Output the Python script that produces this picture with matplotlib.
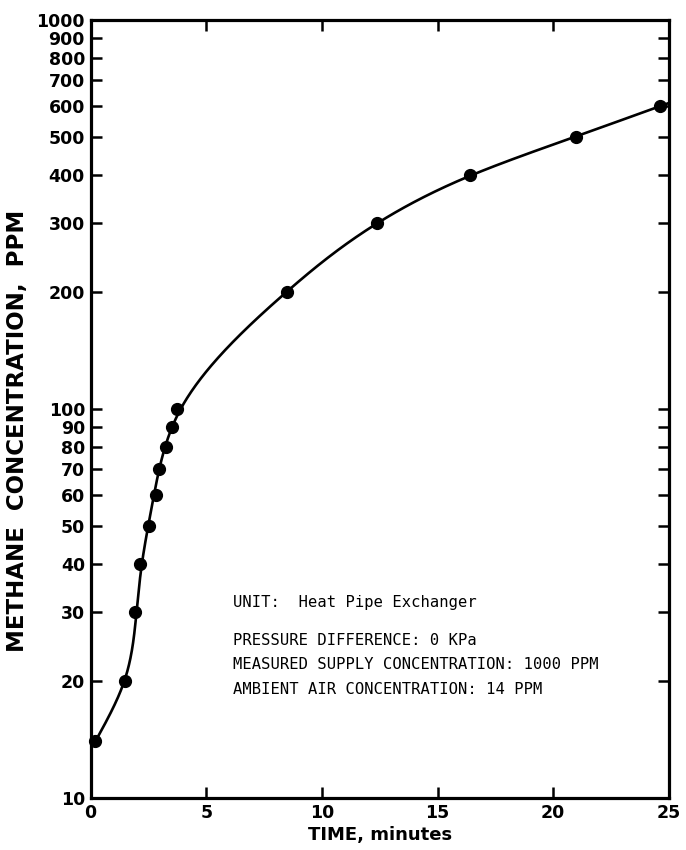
import numpy as np
import matplotlib
matplotlib.use("Agg")
import matplotlib.pyplot as plt
from matplotlib.ticker import FixedLocator, FixedFormatter, NullLocator

# ---- data ----
time_min = [0.2, 1.49, 1.92, 2.14, 2.53, 2.83, 2.96, 3.26, 3.52, 3.74, 8.5, 12.4, 16.4, 21.0, 24.6]
conc_ppm = [14, 20, 30, 40, 50, 60, 70, 80, 90, 100, 200, 300, 400, 500, 600]

y_ticks = [10, 20, 30, 40, 50, 60, 70, 80, 90, 100, 200, 300, 400, 500, 600, 700, 800, 900, 1000]
y_tick_labels = [str(v) for v in y_ticks]
x_ticks = [0, 5, 10, 15, 20, 25]
x_tick_labels = ["0", "5", "10", "15", "20", "25"]

notes = [
    "UNIT:  Heat Pipe Exchanger",
    "PRESSURE DIFFERENCE: 0 KPa",
    "MEASURED SUPPLY CONCENTRATION: 1000 PPM",
    "AMBIENT AIR CONCENTRATION: 14 PPM",
]


def smooth_curve(uk, xk, w, n=500, lam=4e-4, ext=0.03):
    """Penalised (Whittaker-type) smoothing of x as a function of u on a fine grid."""
    uk = np.asarray(uk, float)
    xk = np.asarray(xk, float)
    grid = np.linspace(uk[0], uk[-1] + ext, n)
    h = grid[1] - grid[0]
    B = np.zeros((len(uk), n))
    for i, u in enumerate(uk):
        j = min(int((u - grid[0]) / h), n - 2)
        t = (u - grid[j]) / h
        B[i, j] = 1 - t
        B[i, j + 1] = t
    W = np.diag(w)
    D = np.diff(np.eye(n), 2, axis=0) / h ** 2
    A = B.T @ W @ B + lam * h * (D.T @ D)
    f = np.linalg.solve(A, B.T @ W @ xk)
    return grid, f


fig = plt.figure(figsize=(6.86, 8.5), dpi=100)
ax = fig.add_axes([0.132, 0.0612, 0.843, 0.9153])

lc = np.log10(conc_ppm)
# the cluster of points between 30 and 100 ppm scatters about the drawn line
fit_w = np.where((np.array(conc_ppm) > 20) & (np.array(conc_ppm) <= 100), 1.0, 8.0)
u, xs = smooth_curve(lc, time_min, fit_w)
ax.plot(xs, 10 ** u, color="black", lw=1.9, solid_capstyle="round", zorder=2)
ax.plot(time_min, conc_ppm, "o", color="black", ms=8.5, zorder=3, clip_on=False)

ax.set_yscale("log")
ax.set_xlim(0, 25)
ax.set_ylim(10, 1000)

ax.yaxis.set_major_locator(FixedLocator(y_ticks))
ax.yaxis.set_major_formatter(FixedFormatter(y_tick_labels))
ax.yaxis.set_minor_locator(NullLocator())
ax.xaxis.set_major_locator(FixedLocator(x_ticks))
ax.xaxis.set_major_formatter(FixedFormatter(x_tick_labels))

ax.tick_params(axis="both", which="major", direction="in", length=8, width=1.8,
               top=True, right=True, labelsize=12.5, pad=4)
for lab in ax.get_xticklabels() + ax.get_yticklabels():
    lab.set_fontweight("bold")

for s in ax.spines.values():
    s.set_linewidth(2.3)

ax.set_xlabel("TIME, minutes", fontsize=13, fontweight="bold")
ax.xaxis.set_label_coords(0.5, -0.036)
ax.set_ylabel("METHANE  CONCENTRATION,  PPM", fontsize=16.5, fontweight="bold")
ax.yaxis.set_label_coords(-0.106, 0.472)

ys = [0.251, 0.202, 0.171, 0.140]
for t, yy in zip(notes, ys):
    ax.text(0.246, yy, t, transform=ax.transAxes, fontsize=11.2,
            family="DejaVu Sans Mono", va="center", ha="left")

fig.savefig("out.png", dpi=100)
